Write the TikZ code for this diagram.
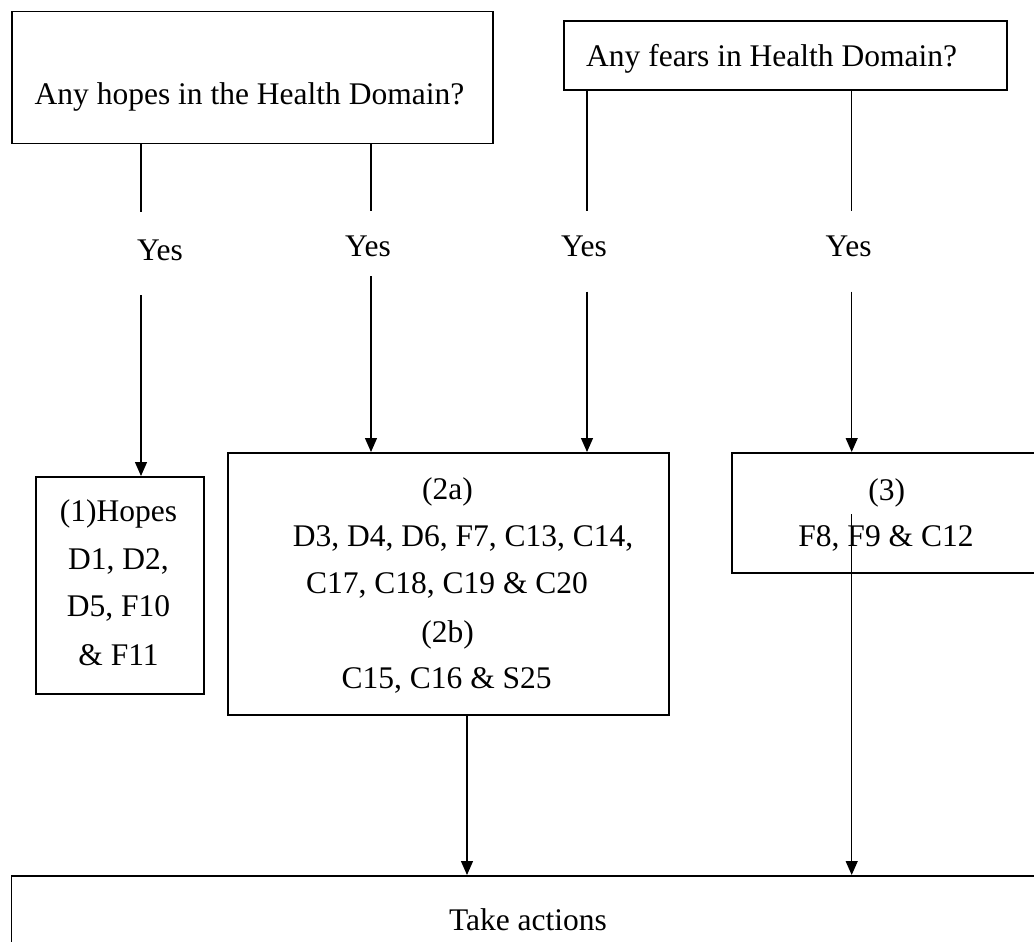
\documentclass[tikz,border=0pt]{standalone}
\usepackage{fontspec}
\setmainfont{Liberation Serif}
\usetikzlibrary{arrows.meta}
\begin{document}
\begin{tikzpicture}[x=1pt,y=-1pt,
  box/.style={draw, line width=1.8pt, inner sep=0pt, anchor=north west},
  txt/.style={inner sep=0pt, anchor=base, font=\fontsize{31.5}{38}\selectfont},
  conn/.style={line width=1.3pt},
  arr/.style={conn, -{Triangle[length=14pt,width=12pt]}}]
\useasboundingbox (0,0) rectangle (1034,942);
\clip (0,0) rectangle (1034,942);
% boxes
\node[box, minimum width=481pt, minimum height=131.8pt] (hopes) at (10.7,10.7) {};
\node[box, minimum width=443pt, minimum height=69pt] (fears) at (562.7,20) {};
\node[box, minimum width=168.2pt, minimum height=216.7pt] (box1) at (34.8,476) {};
\node[box, minimum width=441pt, minimum height=262pt] (box2) at (226.7,452) {};
\node[box, minimum width=330pt, minimum height=120pt] (box3) at (731,452) {};
\node[box, minimum width=1040pt, minimum height=100pt] (act) at (10.6,875) {};
% texts
\node[txt] (hopesT) at (249.5,104.3) {Any hopes in the Health Domain?};
\node[txt] (fearsT) at (771.6,66.7) {Any fears in Health Domain?};
\node[txt] (yes1) at (160,260) {Yes};
\node[txt] (yes2) at (368,256.7) {Yes};
\node[txt] (yes3) at (584,256.7) {Yes};
\node[txt] (yes4) at (848.6,256.7) {Yes};
\node[txt] (t1a) at (118.5,521.7) {(1)Hopes};
\node[txt] (t1b) at (118.5,569) {D1, D2,};
\node[txt] (t1c) at (118.5,616.7) {D5, F10};
\node[txt] (t1d) at (118.5,665) {\& F11};
\node[txt] (t2a) at (447.5,499) {(2a)};
\node[txt] (t2b) at (463,546) {D3, D4, D6, F7, C13, C14,};
\node[txt] (t2c) at (447,593) {C17, C18, C19 \& C20};
\node[txt] (t2d) at (447.5,642) {(2b)};
\node[txt] (t2e) at (446.7,688) {C15, C16 \& S25};
\node[txt] (t3a) at (886.7,500) {(3)};
\node[txt] (t3b) at (886,546) {F8, F9 \& C12};
\node[txt] (actT) at (528,930) {Take actions};
% connector points
\coordinate (a1) at (141,212);   \coordinate (b1) at (141,295);
\coordinate (a2) at (371,210.7); \coordinate (b2) at (371,276);
\coordinate (a3) at (587,210.7); \coordinate (b3) at (587,291.7);
\coordinate (a4) at (851.7,210.7); \coordinate (b4) at (851.7,291.7);
\coordinate (c5) at (467,714);
\coordinate (c6) at (851.7,514);
% connectors
\draw[conn] (hopes.south -| a1) -- (a1);
\draw[arr] (b1) -- (box1.north -| b1);
\draw[conn] (hopes.south -| a2) -- (a2);
\draw[arr] (b2) -- (box2.north -| b2);
\draw[conn] (fears.south -| a3) -- (a3);
\draw[arr] (b3) -- (box2.north -| b3);
\draw[conn] (fears.south -| a4) -- (a4);
\draw[arr] (b4) -- (box3.north -| b4);
\draw[arr] (box2.south -| c5) -- (act.north -| c5);
\draw[arr] (c6) -- (act.north -| c6);
\end{tikzpicture}
\end{document}
